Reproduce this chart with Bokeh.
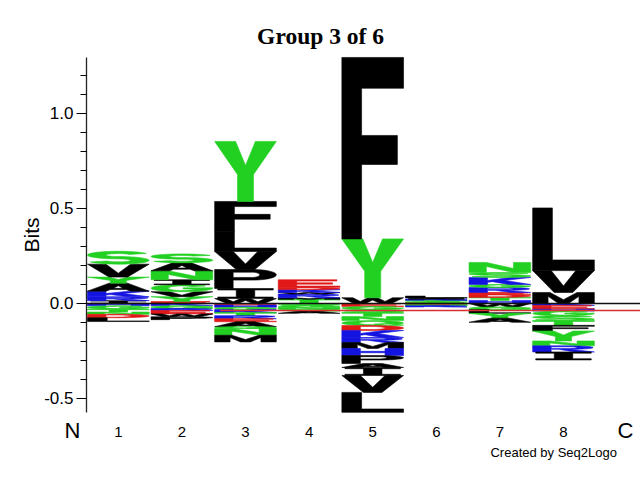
import numpy as np
from bokeh.plotting import figure
from bokeh.models import (ColumnDataSource, FixedTicker, Label, Range1d)
from bokeh.embed import file_html
from bokeh.resources import INLINE

# ---------------- data (bits) ----------------
positions = [1, 2, 3, 4, 5, 6, 7, 8]
tick_labels = ["1", "2", "3", "4", "5", "6", "7", "8"]

# positive stacks, listed from the top letter downwards
p1_up = ["S", "V", "Y", "A", "K", "R", "I"]
p1_up_bits = [0.068, 0.068, 0.032, 0.042, 0.030, 0.020, 0.015]
p2_up = ["S", "A", "N", "I", "G", "V", "Y", "E"]
p2_up_bits = [0.047, 0.042, 0.047, 0.026, 0.037, 0.026, 0.026, 0.010]
p3_up = ["Y", "F", "L", "V", "P", "I", "W"]
p3_up_bits = [0.316, 0.158, 0.105, 0.095, 0.100, 0.053, 0.026]
p4_up = ["E", "D", "K", "W", "R", "M", "T"]
p4_up_bits = [0.040, 0.012, 0.015, 0.008, 0.020, 0.008, 0.022]
p5_up = ["F", "Y", "W"]
p5_up_bits = [0.955, 0.310, 0.030]
p6_up = ["L", "I", "K", "T", "G", "E"]
p6_up_bits = [0.010, 0.006, 0.006, 0.006, 0.006, 0.005]
p7_up = ["N", "S", "K", "G", "R", "E", "D", "T", "H"]
p7_up_bits = [0.053, 0.026, 0.037, 0.016, 0.026, 0.010, 0.016, 0.016, 0.016]
p8_up = ["L", "V", "M"]
p8_up_bits = [0.330, 0.115, 0.058]

# negative stacks, listed from zero downwards
p1_dn = ["H", "G", "T", "N", "D", "L"]
p1_dn_bits = [0.012, 0.018, 0.015, 0.012, 0.018, 0.020]
p2_dn = ["K", "Q", "R", "E", "W", "P"]
p2_dn_bits = [0.012, 0.015, 0.010, 0.018, 0.015, 0.015]
p3_dn = ["D", "H", "G", "K", "T", "R", "E", "A", "Q", "N", "M"]
p3_dn_bits = [0.008, 0.012, 0.012, 0.016, 0.016, 0.016, 0.016, 0.026, 0.010, 0.035, 0.035]
p4_dn = ["S", "G", "N", "Q", "A"]
p4_dn_bits = [0.010, 0.010, 0.010, 0.010, 0.012]
p5_dn = ["E", "G", "S", "T", "N", "Q", "D", "K", "R", "M", "H", "P", "A", "I", "V", "L"]
p5_dn_bits = [0.016, 0.016, 0.016, 0.021, 0.021, 0.026, 0.026, 0.037, 0.026,
              0.032, 0.037, 0.042, 0.021, 0.042, 0.089, 0.105]
p6_dn = ["D", "N", "R"]
p6_dn_bits = [0.006, 0.006, 0.006]
p7_dn = ["W", "Q", "L", "Y", "A"]
p7_dn_bits = [0.018, 0.014, 0.020, 0.025, 0.022]
p8_dn = ["K", "E", "H", "G", "S", "T", "F", "Y", "N", "R", "I"]
p8_dn_bits = [0.010, 0.020, 0.010, 0.025, 0.025, 0.025, 0.030, 0.052, 0.026, 0.032, 0.042]

up_stacks = [(p1_up, p1_up_bits), (p2_up, p2_up_bits), (p3_up, p3_up_bits), (p4_up, p4_up_bits),
             (p5_up, p5_up_bits), (p6_up, p6_up_bits), (p7_up, p7_up_bits), (p8_up, p8_up_bits)]
dn_stacks = [(p1_dn, p1_dn_bits), (p2_dn, p2_dn_bits), (p3_dn, p3_dn_bits), (p4_dn, p4_dn_bits),
             (p5_dn, p5_dn_bits), (p6_dn, p6_dn_bits), (p7_dn, p7_dn_bits), (p8_dn, p8_dn_bits)]

Y_MIN, Y_MAX = -0.574, 1.297   # extent of the drawn y axis

# ---------------- styles ----------------
GREEN, RED, BLUE, BLACK = "#22D022", "#E01818", "#1414E0", "#000000"
colour_of = {}
for aa in "DE":
    colour_of[aa] = RED
for aa in "HKR":
    colour_of[aa] = BLUE
for aa in "ACFILMPVW":
    colour_of[aa] = BLACK
for aa in "GNQSTY":
    colour_of[aa] = GREEN


# ---------------- letter shape templates in a unit box ----------------
def ell(cx, cy, rx, ry, t0, t1, n=28):
    t = np.radians(np.linspace(t0, t1, n))
    return [(cx + rx * np.cos(a), cy + ry * np.sin(a)) for a in t]


def ring(pts):
    return ([q[0] for q in pts], [q[1] for q in pts])


def make_S():
    hx, hy = 0.15, 0.09
    ry = (1 - 2 * hy) / 4
    rx = 0.5 - hx
    c1, c2 = 1 - hy - ry, hy + ry
    left = ell(0.5, c1, rx - hx, ry - hy, 25, 270) + ell(0.5, c2, rx + hx, ry + hy, 90, -155)
    right = ell(0.5, c1, rx + hx, ry + hy, 25, 270) + ell(0.5, c2, rx - hx, ry - hy, 90, -155)
    return [[ring(left + right[::-1])]]


def make_C():
    pts = ell(0.5, 0.5, 0.5, 0.5, 40, 320) + ell(0.5, 0.5, 0.22, 0.33, 320, 40)
    return [[ring(pts)]]


def make_G():
    pts = (ell(0.5, 0.5, 0.5, 0.5, 40, 360)
           + [(1.0, 0.55), (0.52, 0.55), (0.52, 0.40)]
           + ell(0.5, 0.5, 0.22, 0.33, 340, 40))
    return [[ring(pts)]]


def make_D():
    ext = [(0, 0), (0, 1)] + ell(0.45, 0.5, 0.55, 0.5, 90, -90)
    hole = [(0.3, 0.18), (0.3, 0.82)] + ell(0.45, 0.5, 0.25, 0.32, 90, -90)
    return [[ring(ext), ring(hole)]]


def make_P():
    ext = [(0, 0), (0, 1), (0.6, 1)] + ell(0.6, 0.72, 0.4, 0.28, 90, -90) + [(0.3, 0.44), (0.3, 0)]
    hole = [(0.3, 0.58), (0.3, 0.86), (0.6, 0.86)] + ell(0.6, 0.72, 0.13, 0.14, 90, -90)
    return [[ring(ext), ring(hole)]]


def make_R():
    ext = ([(0, 0), (0, 1), (0.6, 1)] + ell(0.6, 0.72, 0.38, 0.28, 90, -90)
           + [(1, 0), (0.68, 0), (0.42, 0.44), (0.3, 0.44), (0.3, 0)])
    hole = [(0.3, 0.58), (0.3, 0.86), (0.6, 0.86)] + ell(0.6, 0.72, 0.12, 0.14, 90, -90)
    return [[ring(ext), ring(hole)]]


def make_Q():
    ext = ell(0.5, 0.5, 0.5, 0.5, 0, 360, 40)
    hole = ell(0.5, 0.5, 0.22, 0.32, 0, 360, 40)
    tail = [(0.52, 0.28), (0.68, 0.40), (1.0, 0.08), (0.86, 0.0)]
    return [[ring(ext), ring(hole)], [ring(tail)]]


simple = {
    "F": [(0, 0), (0, 1), (1, 1), (1, 0.83), (0.32, 0.83), (0.32, 0.57), (0.9, 0.57),
          (0.9, 0.41), (0.32, 0.41), (0.32, 0)],
    "E": [(0, 0), (0, 1), (0.95, 1), (0.95, 0.83), (0.3, 0.83), (0.3, 0.59), (0.88, 0.59),
          (0.88, 0.42), (0.3, 0.42), (0.3, 0.17), (1, 0.17), (1, 0)],
    "L": [(0, 0), (0, 1), (0.32, 1), (0.32, 0.17), (1, 0.17), (1, 0)],
    "I": [(0.05, 0), (0.05, 0.15), (0.35, 0.15), (0.35, 0.85), (0.05, 0.85), (0.05, 1),
          (0.95, 1), (0.95, 0.85), (0.65, 0.85), (0.65, 0.15), (0.95, 0.15), (0.95, 0)],
    "T": [(0, 1), (1, 1), (1, 0.82), (0.65, 0.82), (0.65, 0), (0.35, 0), (0.35, 0.82), (0, 0.82)],
    "V": [(0, 1), (0.3, 1), (0.5, 0.3), (0.7, 1), (1, 1), (0.65, 0), (0.35, 0)],
    "Y": [(0, 1), (0.34, 1), (0.5, 0.6), (0.66, 1), (1, 1), (0.63, 0.45), (0.63, 0),
          (0.37, 0), (0.37, 0.45)],
    "W": [(0, 1), (0.18, 1), (0.3, 0.35), (0.42, 1), (0.58, 1), (0.7, 0.35), (0.82, 1),
          (1, 1), (0.8, 0), (0.62, 0), (0.5, 0.6), (0.38, 0), (0.2, 0)],
    "M": [(0, 0), (0, 1), (0.28, 1), (0.5, 0.35), (0.72, 1), (1, 1), (1, 0), (0.75, 0),
          (0.75, 0.65), (0.58, 0), (0.42, 0), (0.25, 0.65), (0.25, 0)],
    "N": [(0, 0), (0, 1), (0.28, 1), (0.72, 0.4), (0.72, 1), (1, 1), (1, 0), (0.72, 0),
          (0.28, 0.6), (0.28, 0)],
    "H": [(0, 0), (0, 1), (0.3, 1), (0.3, 0.6), (0.7, 0.6), (0.7, 1), (1, 1), (1, 0),
          (0.7, 0), (0.7, 0.4), (0.3, 0.4), (0.3, 0)],
    "K": [(0, 0), (0, 1), (0.3, 1), (0.3, 0.58), (0.68, 1), (1, 1), (0.58, 0.58), (1, 0),
          (0.65, 0), (0.38, 0.4), (0.3, 0.32), (0.3, 0)],
}
shapes = {k: [[ring(v)]] for k, v in simple.items()}
shapes["A"] = [[ring([(0, 0), (0.35, 1), (0.65, 1), (1, 0), (0.7, 0), (0.63, 0.2), (0.37, 0.2), (0.3, 0)]),
                ring([(0.42, 0.35), (0.58, 0.35), (0.5, 0.68)])]]
shapes["S"] = make_S()
shapes["C"] = make_C()
shapes["G"] = make_G()
shapes["D"] = make_D()
shapes["P"] = make_P()
shapes["R"] = make_R()
shapes["Q"] = make_Q()

COL_W = 0.97


def place(letter, xc, y0, h):
    gx, gy = [], []
    for poly in shapes[letter]:
        gx.append([[xc - COL_W / 2 + COL_W * v for v in rx] for rx, ry in poly])
        gy.append([[y0 + h * v for v in ry] for rx, ry in poly])
    return gx, gy


xs, ys, cols = [], [], []
for xc, (letters, bits) in zip(positions, up_stacks):
    y = 0.0
    for aa, b in reversed(list(zip(letters, bits))):
        gx, gy = place(aa, xc, y, b)
        xs.append(gx)
        ys.append(gy)
        cols.append(colour_of[aa])
        y += b
for xc, (letters, bits) in zip(positions, dn_stacks):
    y = 0.0
    for aa, b in zip(letters, bits):
        gx, gy = place(aa, xc, y - b, b)
        xs.append(gx)
        ys.append(gy)
        cols.append(colour_of[aa])
        y -= b

src = ColumnDataSource(dict(xs=xs, ys=ys, c=cols))

# ---------------- figure: frame covers the whole canvas ----------------
p = figure(width=640, height=480, output_backend="svg", toolbar_location=None,
           x_range=Range1d(-0.8522, 9.2107), y_range=Range1d(-0.9316, 1.5947),
           min_border_left=0, min_border_top=0, min_border_bottom=0, min_border_right=0)
p.outline_line_color = None
p.grid.visible = False
p.background_fill_color = "white"

p.multi_polygons(xs="xs", ys="ys", source=src, fill_color="c", line_color="c", line_width=0.6)

# zero line and red reference line
p.segment(x0=[0.5], y0=[0.0], x1=[9.3], y1=[0.0], line_color="#111111", line_width=1.6)
p.segment(x0=[2.6], y0=[-0.037], x1=[9.3], y1=[-0.037], line_color="#D83030", line_width=1.3)

# y axis
ya = p.yaxis[0]
ya.fixed_location = 0.5
ya.bounds = (Y_MIN, Y_MAX)
ya.ticker = FixedTicker(ticks=[-0.5, 0.0, 0.5, 1.0],
                        minor_ticks=[round(-0.5 + 0.1 * i, 1) for i in range(18)])
ya.major_label_overrides = {-0.5: "-0.5", 0.0: "0.0", 0.5: "0.5", 1.0: "1.0"}
ya.axis_label = "Bits"
ya.axis_label_text_font = "Liberation Sans"
ya.axis_label_text_font_style = "normal"
ya.axis_label_text_font_size = "21px"
ya.axis_label_text_color = "black"
ya.axis_label_standoff = -2
ya.major_label_text_font = "Liberation Sans"
ya.major_label_text_font_size = "17px"
ya.major_label_text_color = "black"
ya.major_label_standoff = 3
ya.major_tick_out = 10
ya.major_tick_in = 0
ya.minor_tick_out = 6
ya.minor_tick_in = 0
ya.axis_line_color = "#222222"
ya.axis_line_width = 1.3

# x axis
xa = p.xaxis[0]
xa.fixed_location = Y_MIN
xa.ticker = FixedTicker(ticks=positions)
xa.major_label_overrides = {k: v for k, v in zip(positions, tick_labels)}
xa.major_label_text_font = "Liberation Sans"
xa.major_label_text_font_size = "15px"
xa.major_label_text_color = "black"
xa.major_label_standoff = 8
xa.axis_line_color = None
xa.major_tick_line_color = None
xa.minor_tick_line_color = None

p.add_layout(Label(x=4.18, y=1.41, text="Group 3 of 6", text_font="Liberation Serif",
                   text_font_style="bold", text_font_size="23.5px", text_color="black",
                   text_align="center", text_baseline="middle"))
p.add_layout(Label(x=0.28, y=-0.668, text="N", text_font="Liberation Sans", text_font_size="22px",
                   text_color="black", text_align="center", text_baseline="middle"))
p.add_layout(Label(x=8.975, y=-0.668, text="C", text_font="Liberation Sans", text_font_size="22px",
                   text_color="black", text_align="center", text_baseline="middle"))
p.add_layout(Label(x=6.852, y=-0.784, text="Created by Seq2Logo", text_font="Liberation Sans",
                   text_font_size="13px", text_color="black", text_align="left",
                   text_baseline="middle"))

open("out.html", "w").write(file_html(p, INLINE))
